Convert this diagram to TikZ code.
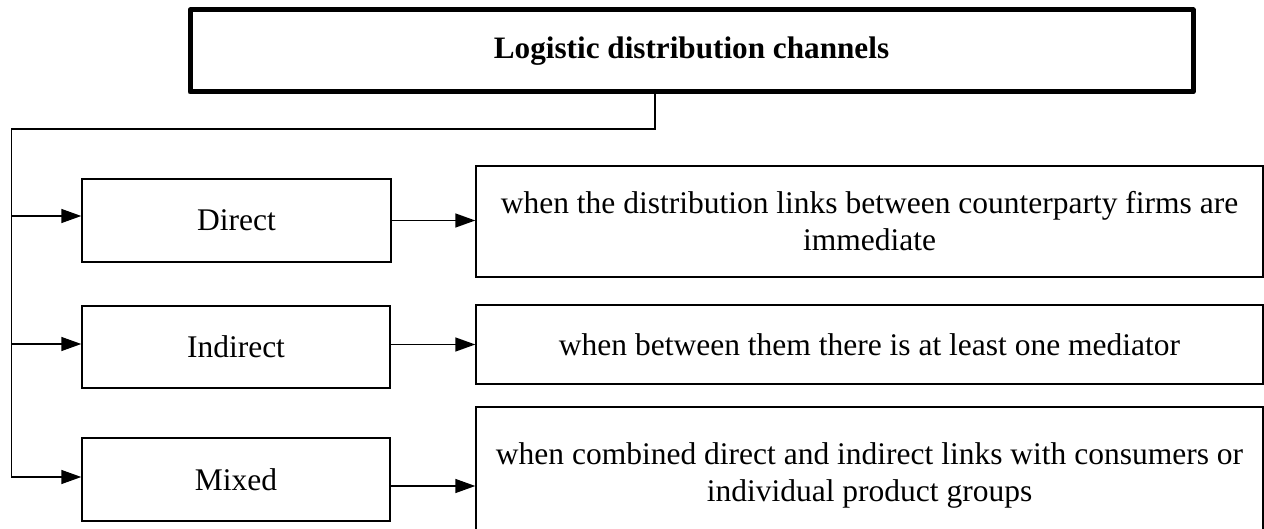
\documentclass[tikz,border=0pt]{standalone}
\usepackage{fontspec}
\setmainfont{Liberation Serif}
\usetikzlibrary{arrows.meta}

\begin{document}
\begin{tikzpicture}[x=0.5pt,y=-0.5pt,
    line/.style={line width=0.7pt},
    arrow/.style={line width=0.7pt,-{Triangle[length=10pt,width=7pt]}},
    box/.style={draw,line width=0.7pt,align=center,inner sep=0pt,
      font=\fontsize{15.75}{18.5}\selectfont},
    headbox/.style={draw,line width=2.5pt,line join=round,inner sep=0pt,
      font=\fontsize{15.6}{18.5}\selectfont\bfseries}]
    \useasboundingbox (0,0) rectangle (1264,529);

    % header
    \node[headbox,minimum width=501.5pt,minimum height=41pt] (title) at (691.5,51)
      {Logistic distribution channels};

    % kinds of channel
    \node[box,minimum width=154.5pt,minimum height=41.5pt] (direct) at (236.5,220.5) {Direct};
    \node[box,minimum width=154pt,minimum height=41pt] (indirect) at (236,347) {Indirect};
    \node[box,minimum width=154pt,minimum height=41.5pt] (mixed) at (236,479.5) {Mixed};

    % what each one means
    \node[box,minimum width=393.5pt,minimum height=55.5pt] (directtxt) at (869.5,221.5)
      {when the distribution links between counterparty firms are\\ immediate};
    \node[box,minimum width=393.5pt,minimum height=39.5pt] (indirecttxt) at (869.5,344.5)
      {when between them there is at least one mediator};
    \node[box,minimum width=393.5pt,minimum height=68pt] (mixedtxt) at (869.5,475)
      {when combined direct and indirect links with consumers or\\ individual product groups};

    % trunk from the header
    \coordinate (bend) at (11.5,129);
    \coordinate (din) at ([yshift=2.25pt]direct.west);
    \coordinate (iin) at ([yshift=1.5pt]indirect.west);
    \coordinate (min) at ([yshift=1.25pt]mixed.west);
    \coordinate (mout) at ([yshift=-3.25pt]mixed.east);

    \draw[arrow] ([xshift=-18.25pt]title.south) |- (bend) |- (min);
    \draw[arrow] (bend |- din) -- (din);
    \draw[arrow] (bend |- iin) -- (iin);

    \draw[arrow] (direct.east) -- (directtxt.west |- direct.east);
    \draw[arrow] (indirect.east |- indirecttxt.west) -- (indirecttxt.west);
    \draw[arrow] (mout) -- (mixedtxt.west |- mout);
  \end{tikzpicture}
\end{document}
